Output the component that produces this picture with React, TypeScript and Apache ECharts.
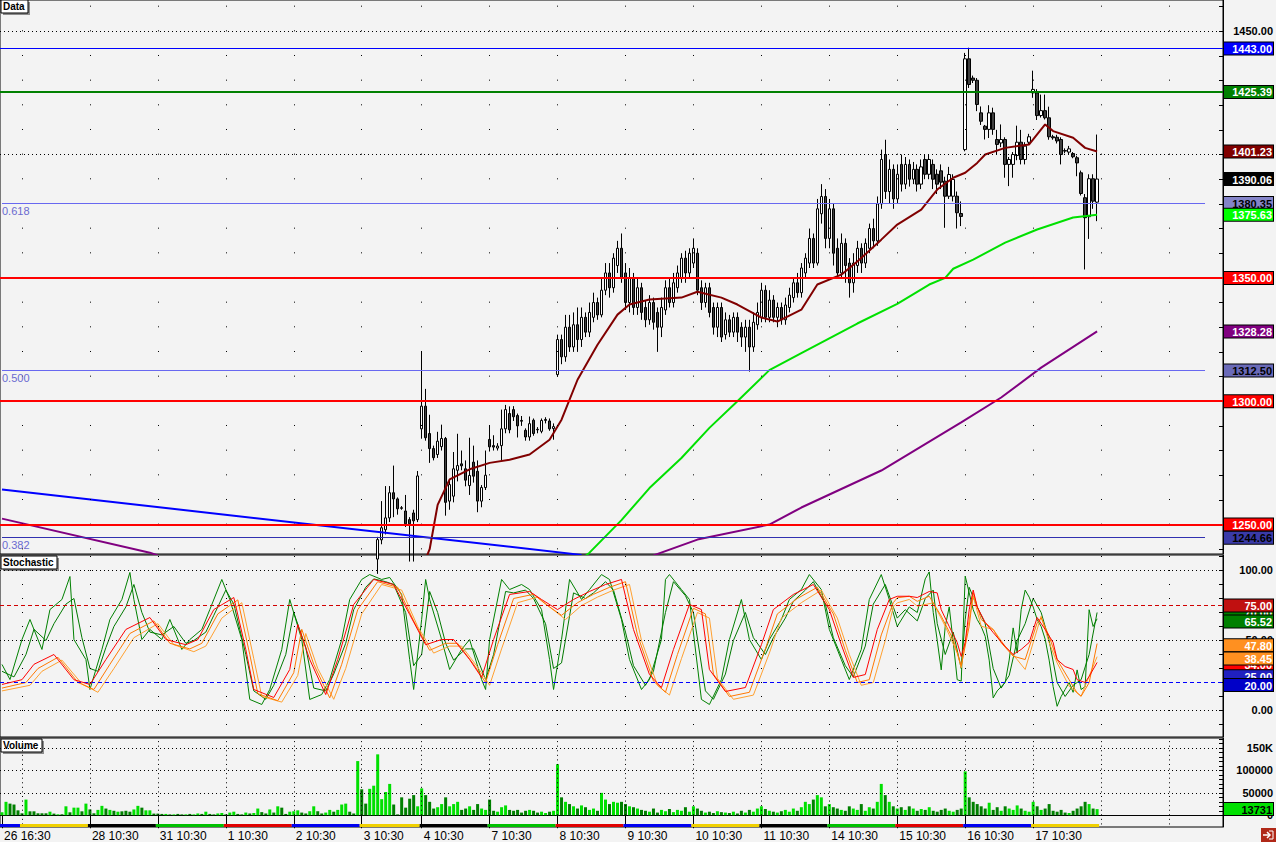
import React, { useEffect, useRef } from "react";
import * as echarts from "echarts";

const FONT = "Liberation Sans";
const N_SLOTS = 306;
const FIRST_BAR = 94;

const DAY_STARTS = [0, 5, 22, 39, 56, 73, 90, 105, 122, 139, 156, 173, 190, 207, 224, 241, 258];
const DAY_ENDS = [4, 21, 38, 55, 72, 89, 104, 121, 138, 155, 172, 189, 206, 223, 240, 257, 274];
const DAY_LABELS = ["26 16:30", "", "28 10:30", "31 10:30", "1 10:30", "2 10:30", "3 10:30", "4 10:30", "7 10:30", "8 10:30", "9 10:30", "10 10:30", "11 10:30", "14 10:30", "15 10:30", "16 10:30", "17 10:30"];
const DAY_COLORS = ["#0000f0", "#f0d000", "#000000", "#00c000", "#e00000", "#0000f0", "#f0d000", "#000000", "#00c000", "#e00000", "#0000f0", "#f0d000", "#000000", "#00c000", "#e00000", "#0000f0", "#f0d000"];
const GRID_COLUMNS = [5, 22, 39, 56, 73, 90, 105, 122, 139, 156, 173, 190, 207, 224, 241, 258, 275, 292];

// [open, close, low, high] for bars 94..274
const CANDLES = [
  [1236, 1243.9, 1230, 1245], [1243.8, 1248.7, 1242, 1259.5], [1247.9, 1252.7, 1246, 1265.6], [1252.7, 1262.9, 1251, 1265.6],
  [1262.9, 1260.4, 1253, 1273.9], [1260.4, 1256.4, 1254, 1261], [1256.8, 1256.6, 1256, 1257.5], [1255.5, 1250.3, 1249, 1262],
  [1252, 1250.3, 1235, 1253], [1254.7, 1251.5, 1235, 1256], [1252, 1269.7, 1251, 1271.7], [1288.8, 1298, 1284.8, 1320.1],
  [1298, 1285.2, 1284, 1305], [1286.9, 1280.8, 1275, 1294.5], [1280.8, 1277.1, 1276, 1282], [1278.4, 1283.8, 1277, 1287.6],
  [1281.6, 1284.9, 1280, 1290.5], [1284.9, 1259, 1253.6, 1285.5], [1259.5, 1266.2, 1256, 1268], [1261.5, 1272.6, 1259, 1279.4],
  [1272, 1273.9, 1267.5, 1286.8], [1274.6, 1273.8, 1272, 1280], [1272.6, 1268, 1265.5, 1276], [1265.8, 1269.9, 1262, 1285.2],
  [1275.3, 1269.6, 1267, 1282], [1271.6, 1259.5, 1255, 1276], [1259.5, 1265, 1257, 1266], [1265, 1270, 1264, 1280],
  [1284.5, 1281.5, 1279.6, 1290.2], [1282, 1281.4, 1280, 1286.2], [1281, 1281.8, 1280, 1283], [1282, 1288.8, 1276, 1296.6],
  [1288.8, 1296.6, 1287, 1298.5], [1295, 1288.4, 1287, 1297.9], [1296.6, 1293.7, 1292, 1298], [1294.2, 1290, 1285.3, 1295],
  [1292.2, 1291.9, 1290, 1294], [1288.2, 1285.5, 1284, 1289], [1285.5, 1290.9, 1284, 1293.8], [1292.3, 1286.9, 1286, 1293],
  [1288.6, 1288.4, 1287, 1289.5], [1287.8, 1292.2, 1287, 1293], [1292.2, 1292.6, 1291, 1293.5], [1292, 1288.8, 1288, 1293],
  [1288.9, 1289.7, 1284.4, 1291], [1310.8, 1325, 1309.9, 1327],
  [1325, 1318, 1315, 1327], [1318, 1330, 1316, 1335], [1330, 1322, 1320, 1335], [1322, 1331, 1320, 1336],
  [1331, 1325, 1320, 1338], [1325, 1334, 1322, 1338], [1334, 1328, 1326, 1336], [1328, 1336, 1326, 1340],
  [1334, 1340, 1332, 1344], [1340, 1335, 1333, 1342], [1335, 1345, 1334, 1350], [1345, 1352, 1343, 1356],
  [1352, 1346, 1342, 1356], [1346, 1358, 1344, 1360], [1355, 1362, 1352, 1365], [1362, 1350, 1348, 1368],
  [1352, 1340, 1337, 1356], [1340, 1350, 1336, 1354], [1350, 1338, 1335, 1352], [1338, 1346, 1335, 1350],
  [1346, 1336, 1333, 1348], [1338, 1333, 1330, 1341], [1333, 1340, 1331, 1343], [1340, 1332, 1329, 1342],
  [1336, 1330, 1320, 1338], [1330, 1338, 1326, 1342], [1337, 1346, 1335, 1349], [1346, 1340, 1338, 1350],
  [1340, 1348, 1338, 1352], [1346, 1352, 1344, 1355], [1350, 1358, 1348, 1360], [1358, 1352, 1348, 1361],
  [1352, 1360, 1350, 1362], [1356, 1362, 1354, 1366], [1360, 1345, 1343, 1362], [1346, 1340, 1337, 1349],
  [1340, 1346, 1338, 1348], [1346, 1336, 1334, 1348], [1338, 1330, 1327, 1340], [1330, 1338, 1326, 1340],
  [1338, 1326, 1324, 1340], [1327, 1333, 1325, 1336], [1333, 1328, 1326, 1335], [1328, 1334, 1326, 1336],
  [1334, 1328, 1324, 1336], [1330, 1326, 1322, 1332], [1326, 1330, 1320, 1333], [1330, 1322, 1312, 1333],
  [1322, 1332, 1320, 1336], [1331, 1336, 1329, 1340], [1334, 1345, 1332, 1348], [1345, 1334, 1332, 1347],
  [1334, 1341, 1332, 1345], [1341, 1334, 1332, 1343], [1334, 1338, 1330, 1340], [1338, 1333, 1331, 1340],
  [1333, 1339, 1331, 1342], [1338, 1343, 1336, 1346], [1342, 1348, 1340, 1350], [1348, 1344, 1342, 1352],
  [1344, 1354, 1342, 1356], [1352, 1358, 1350, 1360], [1356, 1366, 1354, 1370], [1366, 1356, 1354, 1368],
  [1356, 1378, 1355, 1382], [1376, 1383, 1372, 1388], [1383, 1366, 1362, 1386], [1366, 1378, 1362, 1382],
  [1378, 1360, 1355, 1380], [1362, 1352, 1350, 1366], [1352, 1364, 1350, 1368], [1364, 1355, 1348, 1366],
  [1356, 1348, 1342, 1358], [1348, 1356, 1344, 1360], [1355, 1362, 1352, 1365], [1362, 1356, 1352, 1364],
  [1356, 1364, 1354, 1366], [1362, 1370, 1360, 1372], [1370, 1365, 1362, 1374], [1365, 1380, 1363, 1383],
  [1380, 1398, 1378, 1402], [1400, 1385, 1382, 1406], [1385, 1394, 1380, 1398], [1394, 1382, 1378, 1396],
  [1382, 1392, 1380, 1396], [1396, 1388, 1385, 1400], [1388, 1396, 1386, 1399], [1396, 1390, 1387, 1398],
  [1390, 1394, 1388, 1397], [1394, 1388, 1385, 1396], [1388, 1395, 1386, 1398], [1398, 1392, 1390, 1400],
  [1392, 1398, 1390, 1400], [1396, 1390, 1386, 1398], [1392, 1388, 1384, 1394],
  [1393.4, 1388.8, 1386, 1396], [1389.2, 1383.1, 1370.3, 1391], [1383.1, 1391.9, 1382, 1395], [1383.1, 1389.9, 1381, 1392],
  [1383.1, 1376.4, 1370, 1385], [1376.1, 1374.9, 1371, 1381], [1402, 1438.8, 1401.3, 1441.2], [1438.8, 1428.4, 1427, 1443.3],
  [1431, 1430.1, 1429, 1432], [1430.1, 1420.3, 1417.6, 1431], [1416.9, 1413.5, 1412, 1419.5], [1411.5, 1410.2, 1406.1, 1412],
  [1410.2, 1416.9, 1406.7, 1420], [1416.9, 1410.2, 1408, 1419], [1406.1, 1404.1, 1400, 1410], [1404.7, 1406.1, 1403, 1412.2],
  [1406.1, 1396, 1390.6, 1407], [1396, 1398, 1387.2, 1399], [1396, 1400, 1390.6, 1401], [1399.6, 1405, 1397.7, 1411.7],
  [1405, 1398, 1396, 1410], [1398, 1403.4, 1396, 1405], [1405, 1407.2, 1404, 1408.4], [1425, 1426.4, 1423, 1434],
  [1425, 1415.8, 1414, 1426.5], [1415.8, 1417.8, 1415, 1424.3], [1417.8, 1414.9, 1414.2, 1424.3], [1414.9, 1407.2, 1406, 1419.4],
  [1407.2, 1406.8, 1406, 1408], [1407, 1405.5, 1404.5, 1408], [1406.1, 1400, 1396, 1407], [1401.6, 1401.4, 1400.5, 1402.5],
  [1401, 1402.3, 1400, 1403.5], [1400.4, 1399.1, 1398.5, 1401], [1398.7, 1396.6, 1391.2, 1399.5], [1392.6, 1384.2, 1383.4, 1393.5],
  [1382.5, 1374.4, 1353.4, 1384], [1374.8, 1390.2, 1365.8, 1392], [1390.2, 1381.1, 1378, 1392], [1380.7, 1390.06, 1373, 1408.1],
];

const VOLUME = [
  6600, 30000, 26000, 24000, 11000, 4400, 35000, 8800, 8800, 4400, 4400, 4400, 8000, 3700, 2200, 2200, 20000, 6600, 17000, 17000,
  8800, 26000, 13000, 4400, 12000, 21000, 15000, 12000, 10000, 8000, 8800, 10000, 8000, 13000, 21000, 17000, 11000, 11000, 3700, 3700,
  3000, 3000, 2000, 2000, 3000, 2000, 2000, 3000, 2000, 4000, 3000, 8000, 3000, 2000, 4000, 5000, 2000, 6000, 8000, 3000,
  2000, 6000, 4000, 5000, 15000, 7000, 4000, 13000, 6000, 20000, 17000, 3000, 8000, 9000, 11000, 6000, 4000, 9000, 20000, 9000,
  4000, 6000, 12000, 8000, 12000, 24000, 26000, 8000, 4000, 121000, 58000, 26000, 59000, 66000, 136000, 36000, 52000, 70000, 24000, 2000,
  40000, 17000, 37000, 45000, 20000, 60000, 45000, 30000, 15000, 18000, 25000, 40000, 20000, 25000, 30000, 12000, 15000, 20000, 12000, 25000,
  15000, 12000, 35000, 10000, 8000, 18000, 22000, 12000, 10000, 12000, 6000, 10000, 12000, 10000, 6000, 8000, 5000, 8000, 10000, 114000,
  40000, 30000, 25000, 20000, 15000, 22000, 18000, 12000, 15000, 10000, 50000, 35000, 25000, 30000, 28000, 30000, 25000, 20000, 18000, 15000,
  12000, 10000, 8000, 15000, 6000, 12000, 9000, 14000, 7000, 12000, 10000, 18000, 8000, 20000, 15000, 10000, 6000, 8000, 5000, 9000,
  7000, 6000, 5000, 8000, 4000, 10000, 6000, 12000, 8000, 15000, 20000, 14000, 10000, 8000, 6000, 9000, 12000, 8000, 15000, 10000,
  18000, 30000, 25000, 35000, 45000, 40000, 20000, 25000, 18000, 15000, 12000, 10000, 20000, 15000, 12000, 25000, 10000, 18000, 15000, 30000,
  70000, 45000, 30000, 20000, 15000, 18000, 12000, 20000, 15000, 10000, 14000, 12000, 18000, 10000, 8000, 12000, 15000, 10000, 8000, 12000,
  15000, 98000, 40000, 30000, 25000, 20000, 15000, 28000, 12000, 18000, 10000, 20000, 15000, 12000, 22000, 15000, 10000, 8000, 30000, 20000,
  12000, 15000, 25000, 10000, 8000, 12000, 6000, 5000, 10000, 15000, 20000, 30000, 25000, 15000, 13731,
];

// 1 = bright (up) volume bar, for bars before the first visible candle
const VOLUME_UP_EARLY = [
  1, 1, 0, 0, 0, 0, 1, 0, 0, 0, 0, 0, 1, 0, 1, 0, 1, 0, 1, 1, 0, 1, 0, 0, 1, 1, 0, 1, 0, 1, 0, 0, 0, 1, 1, 0, 1, 1, 0, 0,
  0, 1, 0, 1, 0, 0, 1, 0, 1, 1, 0, 1, 0, 0, 1, 1, 0, 1, 1, 0, 0, 1, 0, 1, 1, 0, 0, 1, 0, 1, 0, 0, 1, 1, 1, 0, 0, 1, 1, 0,
  0, 1, 1, 0, 1, 1, 1, 0, 0, 1, 0, 0, 1, 1,
];

const MA_SHORT = [
  [106, 1236], [107, 1240], [109, 1258], [112, 1268.3], [117, 1272.4], [122, 1275], [127, 1276.3], [132, 1278.4], [137, 1284.4],
  [140, 1292.5], [144, 1308.7], [149, 1322.9], [154, 1335.1], [157, 1339.2], [162, 1341.2], [170, 1342], [174, 1344.4], [180, 1342],
  [184, 1339.2], [190, 1333.9], [194, 1332.3], [200, 1337.1], [204, 1347.3], [210, 1351.3], [214, 1356.6], [220, 1365.5], [224, 1371.6],
  [230, 1377.7], [234, 1385.8], [238, 1390.6], [241, 1392.6], [244, 1396.6], [246, 1400], [251, 1402.7], [257, 1404.1], [261, 1412.2],
  [263, 1409.5], [268, 1406.8], [271, 1402.7], [274, 1401.23],
];
const MA_MID = [
  [145, 1236], [147, 1238.6], [155, 1251.8], [162, 1264.8], [170, 1277], [177, 1289.2], [184, 1300], [192, 1312.6], [200, 1319.5],
  [207, 1325.5], [214, 1331.5], [224, 1339.5], [232, 1347.3], [236, 1350], [238, 1353.7], [243, 1357.4], [251, 1364.3], [259, 1369.6],
  [268, 1374.5], [274, 1375.63],
];
const MA_LONG = [
  [0, 1252.4], [37, 1238.6], [39, 1237.5], [40, null], [163, 1237.5], [174, 1243.9], [192, 1250], [200, 1256.9], [220, 1271.9],
  [240, 1291.4], [250, 1301.5], [260, 1313.6], [274, 1328.28],
];
const TRENDLINE = [[0, 1264.2], [145, 1237.7]];

const LEVEL_LINES = [1350, 1300, 1250];
const FIB_LEVELS = [1380.35, 1312.5, 1244.66];
const FIB_NAMES = ["0.618", "0.500", "0.382"];

const STOCH_FAST = [
  [0, 32.9], [2, 22.1], [5, 50.7], [7, 65], [10, 43.6], [12, 72.1], [15, 79.3], [17, 95.7], [18, 50.7], [21, 36.4], [22, 15],
  [25, 43.6], [27, 65], [30, 79.3], [32, 98.6], [33, 79.3], [35, 50.7], [37, 57.9], [40, 50.7], [42, 65], [45, 43.6], [47, 50.7],
  [50, 57.9], [52, 72.1], [55, 93.6], [57, 79.3], [60, 50.7], [62, 7.9], [65, 4.3], [67, 15], [70, 43.6], [72, 79.3], [75, 50.7],
  [77, 7.9], [80, 11.4], [82, 22.1], [85, 50.7], [87, 79.3], [90, 93.6], [92, 97.1], [95, 93.6], [97, 95], [100, 82.9], [102, 36.4],
  [103, 15], [105, 65], [106, 93.6], [107, 79.3], [110, 50.7], [112, 29.3], [115, 43.6], [117, 50.7], [120, 22.1], [121, 15],
  [122, 50.7], [125, 93.6], [127, 86.4], [130, 90], [132, 86.4], [135, 72.1], [137, 36.4], [138, 15], [140, 50.7], [142, 93.6],
  [145, 79.3], [147, 86.4], [150, 97.1], [152, 93.6], [155, 65], [157, 36.4], [160, 15], [162, 22.1], [165, 50.7], [166, 93.6],
  [167, 97.1], [170, 86.4], [172, 79.3], [175, 7.9], [177, 4.3], [180, 22.1], [182, 50.7], [185, 79.3], [187, 50.7], [190, 36.4],
  [192, 50.7], [195, 65], [197, 79.3], [200, 86.4], [202, 97.1], [205, 86.4], [207, 57.9], [210, 36.4], [212, 22.1], [215, 43.6],
  [217, 79.3], [220, 97.1], [222, 79.3], [224, 60], [227, 74], [229, 70], [231, 94], [232, 99], [233, 70], [234, 50], [235, 29],
  [236, 60], [237, 74], [238, 49], [239, 22], [240, 21], [241, 96], [242, 84], [243, 72], [244, 65], [245, 60], [246, 53], [247, 36],
  [248, 9], [249, 14], [250, 17], [251, 20], [252, 36], [253, 59], [254, 41], [255, 72], [256, 86], [257, 81], [258, 74], [259, 65],
  [260, 60], [261, 51], [262, 36], [263, 17], [264, 3], [265, 10], [266, 15], [267, 20], [268, 13], [269, 29], [270, 15], [271, 17],
  [272, 72], [273, 60], [274, 65.52],
];
const STOCH_FAST2 = [
  [0, 28], [3, 24], [6, 40], [8, 58], [11, 50], [13, 62], [16, 76], [18, 80], [20, 52], [22, 30], [24, 28], [26, 45], [28, 60],
  [31, 74], [33, 90], [35, 70], [37, 56], [40, 54], [43, 60], [46, 48], [48, 50], [51, 56], [53, 68], [56, 86], [58, 76], [61, 40],
  [63, 14], [66, 8], [68, 18], [71, 40], [73, 70], [76, 45], [78, 16], [81, 14], [83, 26], [86, 48], [88, 72], [91, 88], [93, 94],
  [96, 92], [98, 90], [101, 70], [103, 32], [105, 40], [107, 85], [109, 70], [111, 48], [113, 36], [116, 44], [118, 44], [121, 22],
  [123, 40], [126, 85], [128, 84], [131, 86], [133, 80], [136, 62], [138, 30], [140, 34], [143, 84], [146, 80], [148, 84], [151, 92],
  [153, 86], [156, 56], [158, 32], [161, 18], [163, 28], [166, 70], [168, 92], [171, 82], [173, 70], [176, 14], [178, 8], [181, 26],
  [183, 50], [186, 70], [188, 52], [191, 40], [193, 52], [196, 66], [198, 78], [201, 86], [203, 92], [206, 76], [208, 52], [211, 32],
  [213, 24], [216, 46], [218, 76], [221, 90], [223, 74], [224, 66], [226, 72], [229, 64], [231, 80], [233, 86], [234, 62], [236, 40],
  [238, 56], [240, 30], [241, 65], [242, 88], [244, 74], [246, 62], [248, 30], [250, 16], [252, 25], [254, 50], [256, 62], [258, 80],
  [260, 70], [262, 50], [264, 20], [266, 10], [268, 18], [270, 22], [272, 40], [274, 70],
];
const STOCH_SLOW = [
  [0, 18.6], [5, 22], [8, 33], [13, 40], [18, 22], [22, 18.6], [26, 36.4], [31, 57.9], [37, 66.4], [41, 50.7], [46, 47], [49, 50.7],
  [53, 72.1], [58, 80.7], [61, 43.6], [63, 15], [68, 9.3], [72, 29.3], [74, 61.4], [77, 36.4], [81, 11.4], [84, 36.4], [88, 75.7],
  [93, 93.6], [98, 90], [102, 68.6], [106, 47], [110, 50.7], [113, 50.7], [117, 36.4], [120, 23.6], [123, 50.7], [127, 82.9],
  [132, 85], [135, 79.3], [139, 72.1], [143, 79.3], [147, 85], [151, 90], [155, 93.6], [158, 57.9], [162, 25.7], [165, 16.4],
  [168, 43.6], [172, 75.7], [175, 72.1], [177, 29.3], [181, 13.6], [186, 16.4], [190, 47], [193, 72.1], [198, 82.9], [203, 90],
  [207, 72.1], [210, 47], [213, 23.6], [216, 25.7], [219, 57.9], [222, 79.3], [224, 81.6], [227, 81.6], [229, 80.7], [232, 85],
  [234, 84], [235, 72], [237, 60], [239, 48.6], [240, 38.6], [241, 48.6], [242, 72], [243, 86], [244, 74], [246, 62.9], [248, 55.7],
  [251, 45.7], [253, 40], [255, 43.6], [257, 48.6], [259, 66.4], [261, 57.9], [263, 48.6], [264, 36.4], [266, 31.4], [268, 29.3],
  [269, 22], [271, 20], [272, 24.3], [274, 34.3],
];
const STOCH_SIGNAL = [
  [0, 16], [6, 20], [9, 30], [14, 38], [19, 20], [23, 15], [27, 33], [32, 55], [38, 64], [42, 48], [47, 44], [50, 48], [54, 69],
  [59, 79], [62, 40], [64, 12], [69, 7], [73, 27], [75, 58], [78, 33], [82, 9], [85, 33], [89, 72], [94, 92], [99, 88], [103, 64],
  [107, 43], [111, 48], [114, 48], [118, 33], [121, 20], [124, 47], [128, 80], [133, 83], [136, 76], [140, 68], [144, 77], [148, 83],
  [152, 88], [156, 92], [159, 54], [163, 21], [166, 13], [169, 40], [173, 73], [176, 69], [178, 26], [182, 10], [187, 13], [191, 44],
  [194, 69], [199, 80], [204, 88], [208, 69], [211, 43], [214, 20], [217, 22], [220, 54], [223, 77], [224, 80.5], [227, 81.6],
  [229, 78], [232, 81.6], [235, 67.4], [238, 50.7], [240, 32], [242, 60.2], [243, 84], [245, 65], [248, 57.9], [250, 48.4],
  [253, 38.8], [256, 36.4], [259, 62.6], [260, 66.2], [262, 53], [264, 36.4], [267, 22], [269, 12.6], [270, 10.2], [272, 19.8],
  [274, 47.8],
];
const STOCH_SIGNAL2 = [
  [0, 14], [7, 18], [10, 28], [15, 36], [20, 19], [24, 13], [28, 30], [33, 52], [39, 62], [43, 47], [48, 42], [51, 46], [55, 66],
  [60, 77], [63, 37], [65, 10], [70, 6], [74, 25], [76, 55], [79, 30], [83, 8], [86, 30], [90, 69], [95, 90], [100, 86], [104, 60],
  [108, 41], [112, 46], [115, 46], [119, 31], [122, 18], [125, 44], [129, 77], [134, 81], [137, 74], [141, 65], [145, 75], [149, 81],
  [153, 86], [157, 90], [160, 50], [164, 18], [167, 11], [170, 37], [174, 70], [177, 66], [179, 23], [183, 8], [188, 11], [192, 41],
  [195, 66], [200, 77], [205, 86], [209, 66], [212, 40], [215, 18], [218, 20], [221, 50], [223, 74], [224, 76.9], [227, 79.3],
  [229, 74.5], [233, 76.9], [236, 60.2], [239, 41.2], [240, 30.5], [241, 48.4], [243, 81.6], [245, 60.2], [248, 57.9], [251, 45.9],
  [254, 36.4], [256, 29.3], [258, 48.4], [260, 67.4], [262, 48.4], [264, 34], [267, 17.4], [270, 10.2], [271, 17.4], [274, 38.45],
];

function App() {
  const ref = useRef<HTMLDivElement>(null);

  useEffect(() => {
    document.body.style.margin = "0";
    const chart = echarts.init(ref.current!, undefined, { renderer: "svg", width: 1276, height: 842 });

    const cats = Array.from({ length: N_SLOTS }, (_, i) => String(i));
    const labelMap: Record<number, string> = {};
    DAY_STARTS.forEach((s, k) => { if (DAY_LABELS[k]) labelMap[s] = DAY_LABELS[k]; });
    const isLabel = (i: number) => labelMap[i] !== undefined;

    const candleData = CANDLES.map((r, k) => [FIRST_BAR + k, r[0], r[1], r[2], r[3]]);
    const volData = VOLUME.map((v, i) => {
      let up: boolean;
      if (i < FIRST_BAR) up = VOLUME_UP_EARLY[i] === 1;
      else { const r = CANDLES[i - FIRST_BAR]; up = r[1] >= r[0]; }
      return { value: [i, v], itemStyle: { color: up ? "#00e000" : "#008000" } };
    });

    const box = (value: number, text: string, bg: string, fg: string) => ({
      yAxis: value,
      lineStyle: { width: 0, color: "rgba(0,0,0,0)" },
      label: {
        show: true, position: "end", distance: 1, formatter: `{t|${text}}`,
        backgroundColor: bg, borderColor: "#000", borderWidth: 1, padding: [1, 1, 0, 1],
        rich: { t: { width: 47, align: "right", color: fg, fontFamily: FONT, fontSize: 11, fontWeight: "bold", lineHeight: 11 } },
      },
    });
    const hline = (value: number, color: string, width: number, type: any) => ({
      yAxis: value, lineStyle: { color, width, type }, label: { show: false },
    });
    const dotColumns = (period: number, offset: number) =>
      GRID_COLUMNS.map((c) => ({ xAxis: c, lineStyle: { color: "#000", width: 1, type: [1, period - 1], dashOffset: offset }, label: { show: false } }));

    const markBase = { symbol: ["none", "none"], silent: true, animation: false };

    const yAxisBase = {
      type: "value", position: "right", scale: true,
      axisLine: { show: true, lineStyle: { color: "#000", width: 1 } },
      splitLine: { show: false },
    };
    const axisLabelStyle = { color: "#000", fontFamily: FONT, fontSize: 11, fontWeight: "bold", align: "right", margin: 50 };

    const range = (a: number, b: number, s: number) => { const r: number[] = []; for (let v = a; v <= b + 1e-9; v += s) r.push(v); return r; };
    const stochLine = (name: string, data: any, color: string, z: number) => ({
      type: "line", name, xAxisIndex: 1, yAxisIndex: 1, data, symbol: "none", z, lineStyle: { color, width: 1 },
    });

    const option: any = {
      animation: false,
      backgroundColor: "#f3f3f3",
      textStyle: { fontFamily: FONT },
      grid: [
        { left: 0, top: 0, width: 1223, height: 554, show: true, backgroundColor: "#f3f3f3", borderColor: "#000", borderWidth: 1 },
        { left: 0, top: 555, width: 1223, height: 182, show: true, backgroundColor: "#f3f3f3", borderColor: "#000", borderWidth: 1 },
        { left: 0, top: 738, width: 1223, height: 91, show: true, backgroundColor: "#f3f3f3", borderColor: "#000", borderWidth: 1 },
      ],
      xAxis: [0, 1, 2].map((g) => ({
        type: "category", gridIndex: g, data: cats, boundaryGap: true,
        axisLine: { show: g === 2, lineStyle: { color: "#000" } },
        axisTick: g === 2
          ? { show: true, alignWithLabel: true, interval: (i: number) => isLabel(i), length: 13, lineStyle: { color: "#000" } }
          : { show: false },
        axisLabel: g === 2
          ? { show: true, interval: (i: number) => isLabel(i), formatter: (_v: string, i: number) => labelMap[i] || "", align: "left", margin: 3, padding: [0, 0, 0, 2], color: "#000", fontFamily: FONT, fontSize: 12 }
          : { show: false },
        splitLine: { show: false },
      })),
      yAxis: [
        {
          ...yAxisBase, gridIndex: 0, min: 1238.06, max: 1462.65,
          axisTick: { show: true, inside: true, length: 4, customValues: range(1240, 1460, 10), lineStyle: { color: "#000" } },
          axisLabel: { ...axisLabelStyle, customValues: [1450], formatter: (v: number) => v.toFixed(2) },
        },
        {
          ...yAxisBase, gridIndex: 1, min: -18.93, max: 111.07,
          axisTick: { show: true, inside: true, length: 4, customValues: range(-10, 110, 10), lineStyle: { color: "#000" } },
          axisLabel: { ...axisLabelStyle, customValues: [100, 50, 0], formatter: (v: number) => v.toFixed(2) },
        },
        {
          ...yAxisBase, gridIndex: 2, min: -26200, max: 172490,
          axisTick: { show: true, inside: true, length: 4, customValues: range(0, 170000, 10000), lineStyle: { color: "#000" } },
          axisLabel: { ...axisLabelStyle, customValues: [150000, 100000, 50000, 0], formatter: (v: number) => (v === 150000 ? "150K" : String(v)) },
        },
      ],
      series: [
        {
          type: "line", name: "levels", xAxisIndex: 0, yAxisIndex: 0, data: [], clip: false, z: 1,
          markLine: {
            ...markBase,
            data: [
              hline(1450, "#000", 1, [1, 3]),
              hline(1400, "#000", 1, [1, 3]),
              ...dotColumns(24.667, 20.4),
              hline(1443, "#0000ff", 1, "solid"),
              hline(1425.39, "#008000", 2, "solid"),
              ...LEVEL_LINES.map((v) => hline(v, "#ff0000", 2, "solid")),
              ...FIB_LEVELS.map((v, k) => [
                { coord: [0, v], lineStyle: { color: k === 2 ? "#3030b0" : "#6868f0", width: 1.2, type: "solid" },
                  label: { show: true, position: "insideStartBottom", formatter: FIB_NAMES[k], color: "#6a6ad0", fontFamily: FONT, fontSize: 11, distance: [0, 2] } },
                { coord: [301, v] },
              ]),
            ],
          },
        },
        {
          type: "candlestick", name: "Data", xAxisIndex: 0, yAxisIndex: 0, data: candleData, z: 2,
          encode: { x: 0, y: [1, 2, 3, 4] }, barWidth: 3,
          itemStyle: { color: "#ffffff", color0: "#404040", borderColor: "#000", borderColor0: "#000", borderWidth: 1 },
        },
        { type: "line", name: "trend", xAxisIndex: 0, yAxisIndex: 0, data: TRENDLINE, symbol: "none", z: 3, lineStyle: { color: "#0000ff", width: 2 } },
        { type: "line", name: "ma200", xAxisIndex: 0, yAxisIndex: 0, data: MA_LONG, symbol: "none", z: 3, lineStyle: { color: "#800080", width: 2 } },
        { type: "line", name: "ma100", xAxisIndex: 0, yAxisIndex: 0, data: MA_MID, symbol: "none", z: 3, lineStyle: { color: "#00e000", width: 2 } },
        { type: "line", name: "ma20", xAxisIndex: 0, yAxisIndex: 0, data: MA_SHORT, symbol: "none", z: 3, lineStyle: { color: "#800000", width: 2 } },
        {
          type: "line", name: "boxes", xAxisIndex: 0, yAxisIndex: 0, data: [], clip: false, z: 10,
          markLine: {
            ...markBase,
            data: [
              box(1443, "1443.00", "#0000ff", "#fff"),
              box(1425.39, "1425.39", "#008000", "#fff"),
              box(1401.23, "1401.23", "#800000", "#fff"),
              box(1390.06, "1390.06", "#000000", "#fff"),
              box(1380.35, "1380.35", "#8484c8", "#000"),
              box(1375.63, "1375.63", "#00ff00", "#fff"),
              box(1350, "1350.00", "#ff0000", "#fff"),
              box(1328.28, "1328.28", "#800080", "#fff"),
              box(1312.5, "1312.50", "#6a6ab8", "#000"),
              box(1300, "1300.00", "#ff0000", "#fff"),
              box(1250, "1250.00", "#ff0000", "#fff"),
              box(1244.66, "1244.66", "#3a3aa8", "#000"),
            ],
          },
        },
        {
          type: "line", name: "stochLevels", xAxisIndex: 1, yAxisIndex: 1, data: [], clip: false, z: 1,
          markLine: {
            ...markBase,
            data: [
              hline(100, "#000", 1, [1, 3]),
              hline(50, "#000", 1, [1, 3]),
              hline(0, "#000", 1, [1, 3]),
              ...dotColumns(14, 2.0),
              hline(75, "#d00000", 1, [4, 3]),
              hline(20, "#0000ff", 1, [4, 3]),
            ],
          },
        },
        stochLine("fast2", STOCH_FAST2, "#007800", 3),
        stochLine("fast", STOCH_FAST, "#008000", 3),
        stochLine("signal2", STOCH_SIGNAL2, "#ffa030", 4),
        stochLine("signal", STOCH_SIGNAL, "#ff7800", 4),
        stochLine("slow", STOCH_SLOW, "#ff0000", 5),
        {
          type: "line", name: "stochBoxes", xAxisIndex: 1, yAxisIndex: 1, data: [], clip: false, z: 10,
          markLine: {
            ...markBase,
            data: [
              box(70, "70.00", "#008000", "#fff"),
              box(33, "34.00", "#ff0000", "#fff"),
              box(24.5, "25.00", "#2020c0", "#fff"),
              box(75, "75.00", "#c01010", "#fff"),
              box(63.6, "65.52", "#008000", "#fff"),
              box(46.6, "47.80", "#ff9020", "#fff"),
              box(37.1, "38.45", "#ff9020", "#fff"),
              box(18.2, "20.00", "#0000c8", "#fff"),
            ],
          },
        },
        {
          type: "line", name: "volLevels", xAxisIndex: 2, yAxisIndex: 2, data: [], clip: false, z: 1,
          markLine: {
            ...markBase,
            data: [
              hline(150000, "#000", 1, [1, 3]),
              hline(100000, "#000", 1, [1, 3]),
              hline(50000, "#000", 1, [1, 3]),
              ...dotColumns(4.573, 2.2),
            ],
          },
        },
        { type: "bar", name: "Volume", xAxisIndex: 2, yAxisIndex: 2, data: volData, barWidth: 3, z: 2 },
        {
          type: "custom", name: "days", xAxisIndex: 2, yAxisIndex: 2, z: 5,
          data: DAY_STARTS.map((s, k) => [s, DAY_ENDS[k], k]),
          encode: { x: 0, y: 1 },
          renderItem: (params: any, api: any) => {
            const s = api.value(0), e = api.value(1), k = api.value(2);
            const p0 = api.coord([s, 0]);
            const p1 = api.coord([e, 0]);
            const w = api.size([1, 0])[0];
            const cs = params.coordSys;
            return {
              type: "rect",
              shape: { x: p0[0] - w / 2, y: cs.y + cs.height - 3, width: p1[0] - p0[0] + w, height: 3 },
              style: { fill: DAY_COLORS[k] },
            };
          },
        },
        {
          type: "line", name: "volBoxes", xAxisIndex: 2, yAxisIndex: 2, data: [], clip: false, z: 10,
          markLine: { ...markBase, data: [box(13731, "13731", "#00e000", "#000")] },
        },
      ],
      graphic: [
        ...[["Data", 0, 27], ["Stochastic", 556, 56], ["Volume", 739, 41]].map(([t, y, w]) => ({
          type: "group", x: 0, y: y as number, z: 100,
          children: [
            { type: "rect", shape: { x: 3, y: 2, width: w as number, height: 13 }, style: { fill: "#8c8c8c" } },
            { type: "rect", shape: { x: 1, y: 0, width: w as number, height: 13 }, style: { fill: "#ffffff", stroke: "#000", lineWidth: 1 } },
            { type: "text", x: 3, y: 1.5, style: { text: t as string, fill: "#000", font: `bold 10px ${FONT}` } },
          ],
        })),
        {
          type: "group", x: 1261, y: 828, z: 100,
          children: [
            { type: "rect", shape: { x: 0, y: 0, width: 15, height: 14 }, style: { fill: "#b02818" } },
            { type: "polyline", shape: { points: [[8, 3], [12, 3], [12, 11], [8, 11]] }, style: { stroke: "#fff", fill: "none", lineWidth: 1 } },
            { type: "polyline", shape: { points: [[2, 7], [9, 7]] }, style: { stroke: "#fff", lineWidth: 1.5 } },
            { type: "polyline", shape: { points: [[6, 4], [9, 7], [6, 10]] }, style: { stroke: "#fff", fill: "none", lineWidth: 1.5 } },
          ],
        },
      ],
    };

    chart.setOption(option);
    return () => chart.dispose();
  }, []);

  return <div ref={ref} style={{ width: 1276, height: 842, background: "#f3f3f3" }} />;
}

export default App;
